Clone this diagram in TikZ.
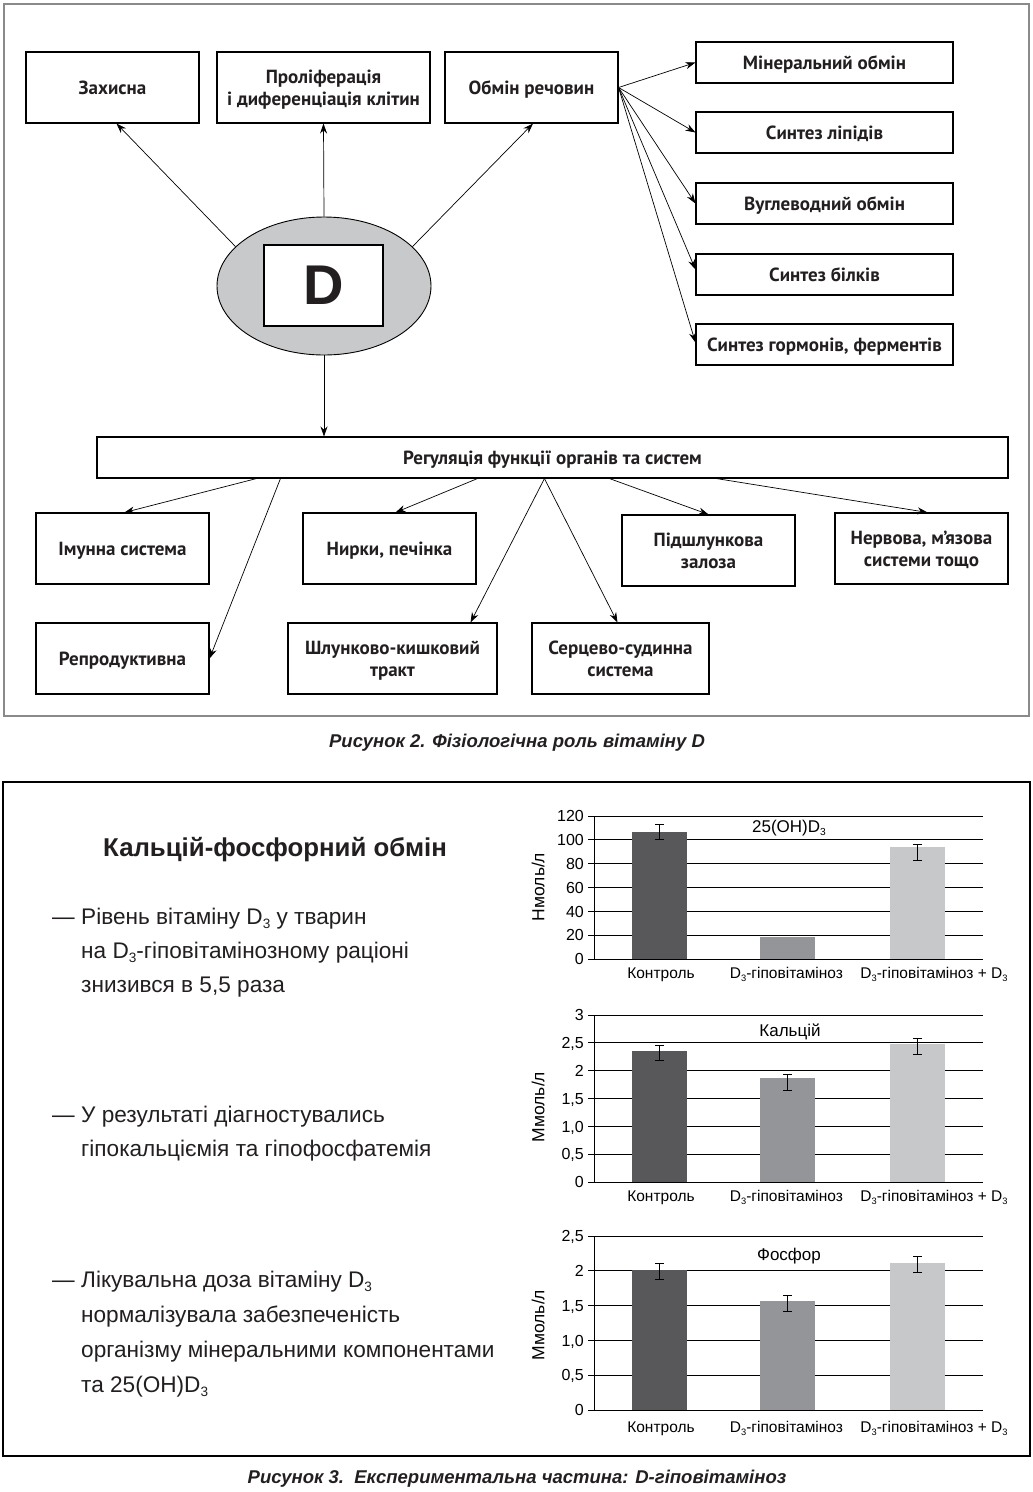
\documentclass[tikz,border=0pt]{standalone}
\usepackage{fontspec}
\usepackage{graphicx}
\setmainfont{Liberation Sans}
\newfontfamily\diag{PT Sans}
\usetikzlibrary{arrows.meta,shapes.geometric,calc}
\definecolor{ellgray}{HTML}{C8C9CB}
\definecolor{barA}{HTML}{58585A}
\definecolor{barB}{HTML}{939598}
\definecolor{barC}{HTML}{C7C8CA}
\definecolor{framegray}{HTML}{8A8A8A}
\definecolor{ink}{HTML}{231F20}
\newcommand{\lsub}[1]{\raisebox{-0.2em}{\scalebox{0.6}{#1}}}
\begin{document}
\begin{tikzpicture}[x=1pt,y=-1pt,
  box/.style={draw=black, line width=1.1pt, inner sep=2pt, align=center, text=ink, text depth=0pt,
    font=\diag\bfseries\fontsize{19}{22}\selectfont},
  arr/.style={-{Stealth[length=10pt,width=7pt]}, line width=0.7pt},
  gridl/.style={line width=0.8pt},
  tick/.style={anchor=east, inner sep=0pt, text height=11.5pt, text depth=0pt, font=\fontsize{16}{16}\selectfont},
  cat/.style={anchor=base, inner sep=0pt, font=\fontsize{15.5}{16}\selectfont},
  ttl/.style={inner sep=0pt, font=\fontsize{17}{17}\selectfont},
  ylab/.style={rotate=90, inner sep=0pt, font=\fontsize{17.5}{18}\selectfont},
  errb/.style={line width=0.8pt},
  body/.style={anchor=base west, inner sep=0pt, text=ink, font=\fontsize{22.6}{23}\selectfont},
  capt/.style={anchor=base, inner sep=0pt, text=ink, font=\bfseries\itshape\fontsize{18.5}{18.5}\selectfont}]
\useasboundingbox (0,0) rectangle (1033,1492);
\fill[white] (0,0) rectangle (1033,1492);

% ---------- Figure 2 ----------
\draw[framegray, line width=1.5pt] (4,4) rectangle (1029,716);

\node[box, minimum width=173pt, minimum height=71pt] (zah) at (112.5,87.5) {Захисна};
\node[box, minimum width=213pt, minimum height=71pt] (prol) at (323.5,87.5) {Проліферація\\і диференціація клітин};
\node[box, minimum width=173pt, minimum height=71pt] (obm) at (531.5,87.5) {Обмін речовин};

\node[box, minimum width=257pt, minimum height=41pt] (m1) at (824.5,62.5) {Мінеральний обмін};
\node[box, minimum width=257pt, minimum height=41pt] (m2) at (824.5,132.5) {Синтез ліпідів};
\node[box, minimum width=257pt, minimum height=41pt] (m3) at (824.5,203.5) {Вуглеводний обмін};
\node[box, minimum width=257pt, minimum height=41pt] (m4) at (824.5,274.5) {Синтез білків};
\node[box, minimum width=257pt, minimum height=41pt] (m5) at (824.5,344.5) {Синтез гормонів, ферментів};

\node[ellipse, draw=black, line width=0.9pt, fill=ellgray, minimum width=214pt, minimum height=138pt, inner sep=0pt] (ell) at (324,286) {};
\node[draw=black, line width=1.1pt, fill=white, minimum width=119pt, minimum height=81pt, inner sep=0pt, text=ink,
  font=\bfseries\fontsize{56}{56}\selectfont] (dbox) at (323.5,285.5) {\raisebox{-2pt}{D}};

\node[box, minimum width=911pt, minimum height=41pt] (reg) at (552.5,457.5) {Регуляція функції органів та систем};

\node[box, minimum width=173pt, minimum height=71pt] (imm) at (122.5,548.5) {Імунна система};
\node[box, minimum width=173pt, minimum height=71pt] (nyr) at (389.5,548.5) {Нирки, печінка};
\node[box, minimum width=173pt, minimum height=71pt] (pid) at (708.5,550.5) {Підшлункова\\залоза};
\node[box, minimum width=173pt, minimum height=71pt] (ner) at (921.5,548.5) {Нервова, м’язова\\системи тощо};
\node[box, minimum width=173pt, minimum height=71pt] (rep) at (122.5,658.5) {Репродуктивна};
\node[box, minimum width=209pt, minimum height=71pt] (shl) at (392.5,658.5) {Шлунково-кишковий\\тракт};
\node[box, minimum width=177pt, minimum height=71pt] (ser) at (620.5,658.5) {Серцево-судинна\\система};

\draw[arr] (ell.156) -- ([xshift=4pt]zah.south);
\draw[arr] (ell.north) -- (prol.south);
\draw[arr] (ell.24) -- ([xshift=1.5pt]obm.south);
\draw[arr] (ell.south) -- (ell.south |- reg.north);

\draw[arr] (obm.east) -- (m1.west);
\draw[arr] (obm.east) -- (m2.west);
\draw[arr] (obm.east) -- (m3.west);
\draw[arr] (obm.east) -- ([yshift=5pt]m4.west);
\draw[arr] (obm.east) -- ([yshift=2pt]m5.west);

\draw[arr] ([xshift=160pt]reg.south west) -- ([xshift=2pt]imm.north);
\draw[arr] ([xshift=184pt]reg.south west) -- (rep.east);
\draw[arr] ([xshift=381pt]reg.south west) -- ([xshift=6pt]nyr.north);
\draw[arr] ([xshift=448pt]reg.south west) -- ([xshift=-27pt]shl.north east);
\draw[arr] ([xshift=448pt]reg.south west) -- ([xshift=-3pt]ser.north);
\draw[arr] ([xshift=513pt]reg.south west) -- (pid.north);
\draw[arr] ([xshift=620pt]reg.south west) -- ([xshift=6pt]ner.north);

\node[capt] (cap2) at (517,747) {Рисунок 2. Фізіологічна роль вітаміну D};

% ---------- Figure 3 ----------
\draw[black, line width=1.2pt] (3,782) rectangle (1030,1456);

\node[anchor=base, inner sep=0pt, text=ink, font=\bfseries\fontsize{25.8}{26}\selectfont] (ttl3) at (275,856) {Кальцій-фосфорний обмін};

\node[body] (d1) at (52,924) {—};
\node[body] (l11) at (81,924) {Рівень вітаміну D\lsub{3} у тварин};
\node[body] (l12) at (81,958) {на D\lsub{3}-гіповітамінозному раціоні};
\node[body] (l13) at (81,992) {знизився в 5,5 раза};

\node[body] (d2) at (52,1122) {—};
\node[body] (l21) at (81,1122) {У результаті діагностувались};
\node[body] (l22) at (81,1156) {гіпокальціємія та гіпофосфатемія};

\node[body] (d3) at (52,1287) {—};
\node[body] (l31) at (81,1287) {Лікувальна доза вітаміну D\lsub{3}};
\node[body] (l32) at (81,1322) {нормалізувала забезпеченість};
\node[body] (l33) at (81,1357) {організму мінеральними компонентами};
\node[body] (l34) at (81,1392) {та 25(OH)D\lsub{3}};

% chart 1
\foreach \y/\l in {959/0, 935.2/20, 911.3/40, 887.5/60, 863.7/80, 839.8/100, 816/120} {
  \draw[gridl] (588,\y) -- (983,\y);
  \node[tick] at (584,\y) {\l};
}
\draw[gridl] (594,816) -- (594,959);
\fill[barA] (632,832) rectangle (687,959);
\fill[barB] (760,937) rectangle (815,959);
\fill[barC] (890,847) rectangle (945,959);
\draw[gridl] (588,959) -- (983,959);
\draw[errb] (659.5,824.3) -- (659.5,839.8) (655,824.3) -- (664,824.3) (655,839.8) -- (664,839.8);
\draw[errb] (783,935) -- (792,935);
\draw[errb] (917.5,844) -- (917.5,860.5) (913,844) -- (922,844) (913,860.5) -- (922,860.5);
\node[ttl] (c1t) at (789,828) {25(OH)D\lsub{3}};
\node[ylab] (c1y) at (538,887) {Нмоль/л};
\node[cat] at (661,978) {Контроль};
\node[cat] at (786.5,978) {D\lsub{3}-гіповітаміноз};
\node[cat] at (934,978) {D\lsub{3}-гіповітаміноз + D\lsub{3}};

% chart 2
\foreach \y/\l in {1182/0, 1154.2/{0,5}, 1126.3/{1,0}, 1098.5/{1,5}, 1070.7/2, 1042.8/{2,5}, 1015/3} {
  \draw[gridl] (588,\y) -- (983,\y);
  \node[tick] at (584,\y) {\l};
}
\draw[gridl] (594,1015) -- (594,1182);
\fill[barA] (632,1051) rectangle (687,1182);
\fill[barB] (760,1078) rectangle (815,1182);
\fill[barC] (890,1043.5) rectangle (945,1182);
\draw[gridl] (588,1182) -- (983,1182);
\draw[errb] (659.5,1045) -- (659.5,1060.7) (655,1045) -- (664,1045) (655,1060.7) -- (664,1060.7);
\draw[errb] (787.5,1074.3) -- (787.5,1090.3) (783,1074.3) -- (792,1074.3) (783,1090.3) -- (792,1090.3);
\draw[errb] (917.5,1038.3) -- (917.5,1054.3) (913,1038.3) -- (922,1038.3) (913,1054.3) -- (922,1054.3);
\node[ttl] (c2t) at (790,1032) {Кальцій};
\node[ylab] (c2y) at (538,1107) {Ммоль/л};
\node[cat] at (661,1201) {Контроль};
\node[cat] at (786.5,1201) {D\lsub{3}-гіповітаміноз};
\node[cat] at (934,1201) {D\lsub{3}-гіповітаміноз + D\lsub{3}};

% chart 3
\foreach \y/\l in {1410/0, 1375.2/{0,5}, 1340.4/{1,0}, 1305.6/{1,5}, 1270.8/2, 1236/{2,5}} {
  \draw[gridl] (588,\y) -- (983,\y);
  \node[tick] at (584,\y) {\l};
}
\draw[gridl] (594,1236) -- (594,1410);
\fill[barA] (632,1270.3) rectangle (687,1410);
\fill[barB] (760,1301) rectangle (815,1410);
\fill[barC] (890,1263) rectangle (945,1410);
\draw[gridl] (588,1410) -- (983,1410);
\draw[errb] (659.5,1263.7) -- (659.5,1279.3) (655,1263.7) -- (664,1263.7) (655,1279.3) -- (664,1279.3);
\draw[errb] (787.5,1295.3) -- (787.5,1311.3) (783,1295.3) -- (792,1295.3) (783,1311.3) -- (792,1311.3);
\draw[errb] (917.5,1256.7) -- (917.5,1272.7) (913,1256.7) -- (922,1256.7) (913,1272.7) -- (922,1272.7);
\node[ttl] (c3t) at (789,1256) {Фосфор};
\node[ylab] (c3y) at (538,1325) {Ммоль/л};
\node[cat] at (661,1432) {Контроль};
\node[cat] at (786.5,1432) {D\lsub{3}-гіповітаміноз};
\node[cat] at (934,1432) {D\lsub{3}-гіповітаміноз + D\lsub{3}};

\node[capt] (cap3) at (517,1483) {Рисунок 3.\ \ Експериментальна частина: D-гіповітаміноз};
\end{tikzpicture}
\end{document}
